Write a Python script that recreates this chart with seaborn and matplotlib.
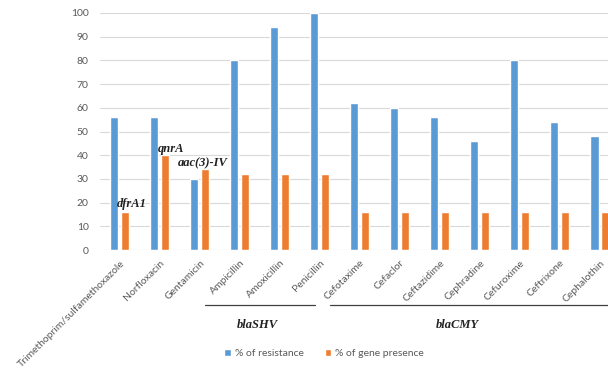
import matplotlib
matplotlib.use("Agg")
import matplotlib.pyplot as plt
import seaborn as sns
import pandas as pd

antibiotics = ["Trimethoprim/sulfamethoxazole", "Norfloxacin", "Gentamicin",
               "Ampicillin", "Amoxicillin", "Penicillin", "Cefotaxime", "Cefaclor",
               "Ceftazidime", "Cephradine", "Cefuroxime", "Ceftrixone", "Cephalothin"]
resistance = [56, 56, 30, 80, 94, 100, 62, 60, 56, 46, 80, 54, 48]
gene_presence = [16, 40, 34, 32, 32, 32, 16, 16, 16, 16, 16, 16, 16]
series_names = ["% of resistance", "% of gene presence"]
gene_labels = ["dfrA1", "qnrA", "aac(3)-IV"]
group_names = ["blaSHV", "blaCMY"]

df = pd.DataFrame({
    "drug": antibiotics * 2,
    "value": resistance + gene_presence,
    "measure": [series_names[0]] * len(antibiotics) + [series_names[1]] * len(antibiotics),
})

sns.set_theme(style="white")
plt.rcParams["font.family"] = ["Lato", "DejaVu Sans"]

fig = plt.figure(figsize=(6.08, 3.70), dpi=100)
ax = fig.add_axes([0.164, 0.324, 0.836, 0.641])

palette = {series_names[0]: "#5B9BD5", series_names[1]: "#ED7D31"}
sns.barplot(data=df, x="drug", y="value", hue="measure", palette=palette,
            width=0.55, gap=0.27, ax=ax, saturation=1)

ax.set_ylim(0, 100)
ax.set_xlim(-0.5, 12.2)
ax.set_yticks(range(0, 101, 10))
ax.yaxis.grid(True, color="#D9D9D9", linewidth=0.8)
ax.set_axisbelow(True)
for s in ax.spines.values():
    s.set_visible(False)
ax.set_xlabel("")
ax.set_ylabel("")
ax.tick_params(axis="y", labelsize=7.5, colors="#595959", length=0, pad=8)
ax.tick_params(axis="x", labelsize=7.5, colors="#595959", length=0, pad=6)
for lab in ax.get_xticklabels():
    lab.set_rotation(45)
    lab.set_ha("right")
    lab.set_rotation_mode("anchor")

serif_bi = dict(fontsize=9, fontweight="bold", fontstyle="italic",
                family=["Liberation Serif", "DejaVu Serif"], color="#222222")

# gene names above the gene-presence bars
label_dx = [0.3, 0.28, 0.08]
label_dy = [3.5, 2.6, 2.7]
for i, name in enumerate(gene_labels):
    ax.text(i + label_dx[i], gene_presence[i] + label_dy[i], name,
            ha="center", va="center", **serif_bi)

# bracket lines and labels for the gene groups
trans = ax.get_xaxis_transform()
spans = [(2.12, 4.88), (5.25, 12.2)]
label_x = [3.43, 8.43]
for name, (x0, x1), lx in zip(group_names, spans, label_x):
    ax.plot([x0, x1], [-0.232, -0.232], transform=trans, color="#404040",
            linewidth=0.9, clip_on=False)
    ax.text(lx, -0.316, name, transform=trans, ha="center", va="center", **serif_bi)

handles, labels = ax.get_legend_handles_labels()
ax.get_legend().remove()
fig.legend(handles, labels, loc="center", bbox_to_anchor=(0.533, 0.044), ncol=2,
           frameon=False, fontsize=7.5, handlelength=0.6, handleheight=0.6,
           handletextpad=0.4, columnspacing=2.0, labelcolor="#595959")

fig.savefig("out.png", dpi=100)
